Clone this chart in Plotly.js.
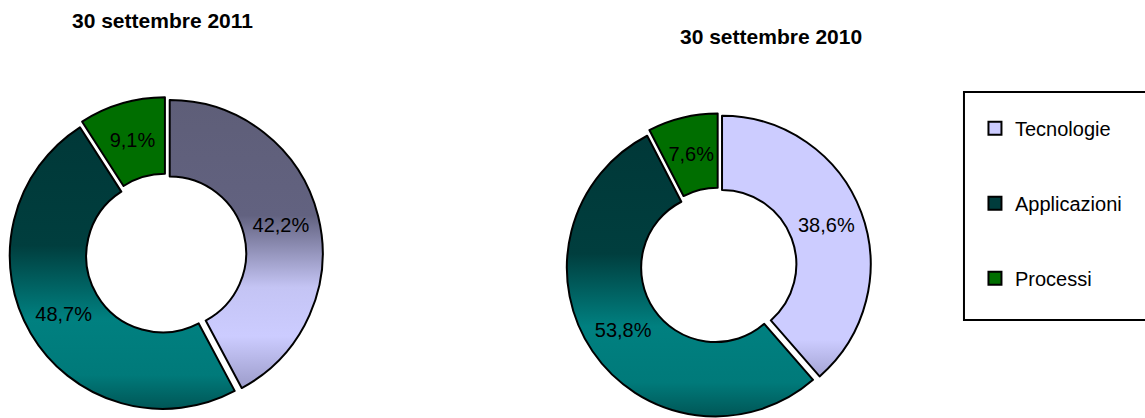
<!DOCTYPE html>
<html><head><meta charset="utf-8">
<script src="https://cdn.plot.ly/plotly-3.0.1.min.js"></script>
<style>html,body{margin:0;padding:0;background:#fff}#chart{width:1145px;height:418px}</style>
</head><body><div id="chart"></div>
<script>
// ---- data ----
const categories = ['Tecnologie', 'Applicazioni', 'Processi'];
const values2011 = [42.2, 48.7, 9.1];
const values2010 = [38.6, 53.8, 7.6];
const titles = ['30 settembre 2011', '30 settembre 2010'];

// ---- styles ----
const swatchColors = ['#ccccff', '#003c3c', '#006e00'];
const grad2011 = [
  [[0,'#5e5e78'],[0.40,'#626280'],[0.65,'#c4c4f4'],[0.82,'#ccccff'],[1,'#9c9cca']],
  [[0,'#003838'],[0.42,'#003e3e'],[0.68,'#008080'],[0.88,'#007a7a'],[1,'#005656']],
  [[0,'#006e00'],[1,'#006e00']]
];
const grad2010 = [
  [[0,'#ccccff'],[0.86,'#ccccff'],[1,'#a4a4d4']],
  [[0,'#003838'],[0.42,'#003e3e'],[0.68,'#008080'],[0.88,'#007a7a'],[1,'#005656']],
  [[0,'#006e00'],[1,'#006e00']]
];
const FONT = 'Liberation Sans, Arial, sans-serif';
const PULL = 0.025, HOLE = 0.5;

function pieTrace(vals, dom) {
  return {
    type: 'pie', labels: categories, values: vals, hole: HOLE, sort: false,
    direction: 'clockwise', rotation: 0, pull: PULL, domain: dom,
    marker: {colors: swatchColors, line: {color: '#000', width: 2}},
    texttemplate: '%{value:.1f}%', textposition: 'inside',
    insidetextorientation: 'horizontal',
    textfont: {family: FONT, size: 20, color: '#000'},
    showlegend: false, hoverinfo: 'skip'
  };
}

const traces = [
  pieTrace(values2011, {x: [0.00804, 0.2819], y: [0.0172, 0.7675]}),
  pieTrace(values2010, {x: [0.4942, 0.7609], y: [0, 0.7289]})
];
categories.forEach((c, i) => traces.push({
  type: 'scatter', mode: 'markers', x: [null], y: [null], name: c,
  legendgroup: 'g' + i, hoverinfo: 'skip',
  marker: {symbol: 'square', size: 13, color: swatchColors[i], line: {color: '#000', width: 2}}
}));

const layout = {
  width: 1145, height: 418, margin: {l: 0, r: 0, t: 0, b: 0},
  paper_bgcolor: '#fff', plot_bgcolor: 'rgba(0,0,0,0)',
  separators: ',.',
  xaxis: {visible: false}, yaxis: {visible: false},
  showlegend: true,
  legend: {x: 0.8515, xanchor: 'left', y: 0.740, yanchor: 'top', traceorder: 'grouped',
    tracegroupgap: 46, bgcolor: 'rgba(0,0,0,0)', borderwidth: 0,
    font: {family: FONT, size: 20, color: '#000'}},
  shapes: [{type: 'rect', xref: 'paper', yref: 'paper', x0: 0.8419, x1: 1.01, y0: 0.2344, y1: 0.78,
    line: {color: '#000', width: 2}, fillcolor: 'rgba(0,0,0,0)'}],
  annotations: [
    {text: '<b>' + titles[0] + '</b>', x: 0.1415, y: 0.952, xref: 'paper', yref: 'paper',
     xanchor: 'center', yanchor: 'middle', showarrow: false,
     font: {family: FONT, size: 21, color: '#000'}},
    {text: '<b>' + titles[1] + '</b>', x: 0.6734, y: 0.912, xref: 'paper', yref: 'paper',
     xanchor: 'center', yanchor: 'middle', showarrow: false,
     font: {family: FONT, size: 21, color: '#000'}}
  ],
  hovermode: false
};

Plotly.newPlot('chart', traces, layout, {displayModeBar: false, staticPlot: true}).then(gd => {
  const svg = gd.querySelector('.main-svg');
  const svgRect = svg.getBoundingClientRect();
  let defs = svg.querySelector('defs');
  const NS = 'http://www.w3.org/2000/svg';
  const grads = [grad2011, grad2010];
  gd.querySelectorAll('.pielayer .trace').forEach((tr, ti) => {
    const cd = gd.calcdata[ti];
    tr.querySelectorAll('g.slice').forEach((sl, si) => {
      const id = 'pg' + ti + '_' + si;
      const lg = document.createElementNS(NS, 'linearGradient');
      lg.setAttribute('id', id);
      lg.setAttribute('x1', '0'); lg.setAttribute('y1', '0');
      lg.setAttribute('x2', '0'); lg.setAttribute('y2', '1');
      grads[ti][si].forEach(s => {
        const st = document.createElementNS(NS, 'stop');
        st.setAttribute('offset', s[0]);
        st.setAttribute('stop-color', s[1]);
        lg.appendChild(st);
      });
      defs.appendChild(lg);
      const p = sl.querySelector('path.surface');
      if (p) p.style.fill = 'url(#' + id + ')';
      // keep each label at the middle of its ring (as the original does)
      try {
        const t = sl.querySelector('g.slicetext text');
        const pt = cd[si];
        if (t && pt && pt.pxmid) {
          const k = PULL + (1 + HOLE) / 2;
          const tx = cd[0].cx + pt.pxmid[0] * k;
          const ty = cd[0].cy + pt.pxmid[1] * k;
          const b = t.getBoundingClientRect();
          const dx = tx - (b.left + b.width / 2 - svgRect.left);
          const dy = ty - (b.top + b.height / 2 - svgRect.top);
          t.setAttribute('transform', 'translate(' + dx + ',' + dy + ') ' + (t.getAttribute('transform') || ''));
        }
      } catch (e) {}
    });
  });
});
</script>
</body></html>
